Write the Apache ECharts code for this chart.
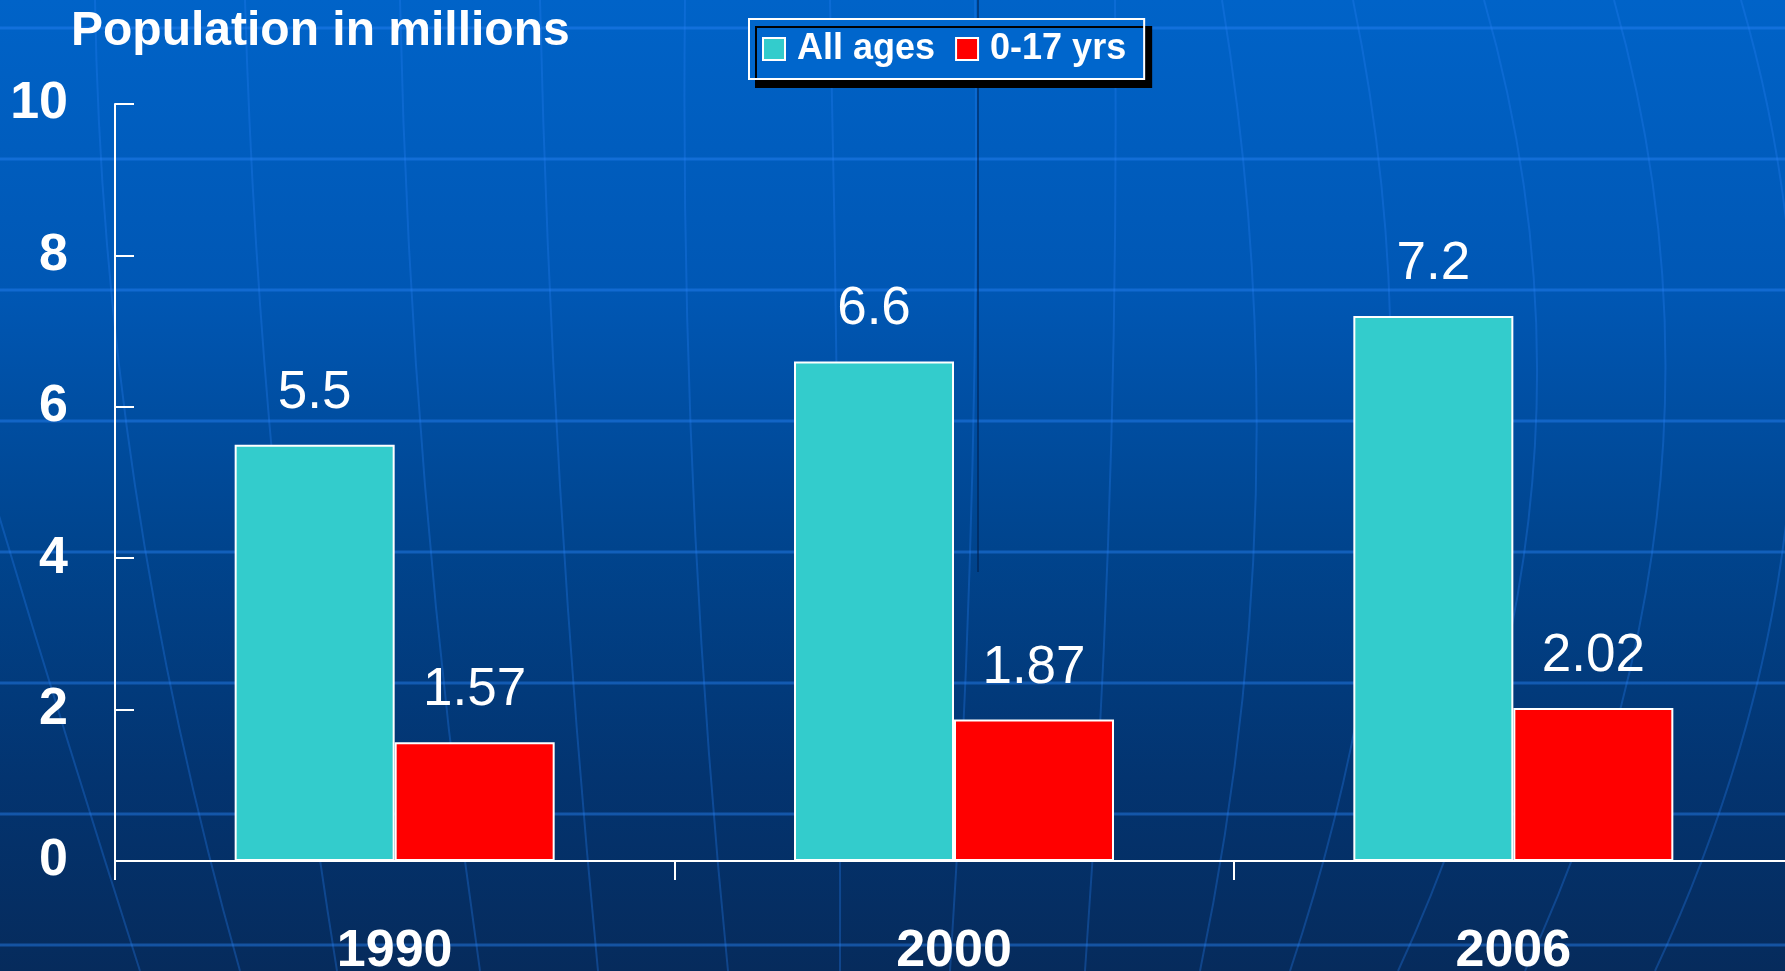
<!DOCTYPE html>
<html>
<head>
<meta charset="utf-8">
<title>Population in millions</title>
<script src="https://cdn.jsdelivr.net/npm/echarts@6/dist/echarts.min.js"></script>
<style>
  html, body { margin: 0; padding: 0; background: #003a7a; }
  #chart { width: 1785px; height: 971px; }
</style>
</head>
<body>
<div id="chart"></div>
<script>
  var years = ['1990', '2000', '2006'];
  var allAges = [5.5, 6.6, 7.2];
  var youth = [1.57, 1.87, 2.02];
  var seriesNames = ['All ages', '0-17 yrs'];

  var chart = echarts.init(document.getElementById('chart'));
  var W = 1785, H = 971;

  // background: blue slide gradient with a faint globe grid
  var deco = [{
    type: 'rect',
    z: -10,
    silent: true,
    shape: { x: 0, y: 0, width: W, height: H },
    style: {
      fill: new echarts.graphic.LinearGradient(0, 0, 0, 1, [
        { offset: 0, color: '#0063c8' },
        { offset: 0.3, color: '#0057b4' },
        { offset: 0.55, color: '#00458f' },
        { offset: 0.8, color: '#033470' },
        { offset: 1, color: '#062b5c' }
      ])
    }
  }];

  var rows = [28, 159, 290, 421, 552, 683, 814, 945];
  rows.forEach(function (y) {
    deco.push({
      type: 'line', z: -9, silent: true,
      shape: { x1: 0, y1: y, x2: W, y2: y },
      style: { stroke: 'rgba(40,130,245,0.45)', lineWidth: 3 }
    });
  });

  // meridians: x at top, middle, bottom
  var meridians = [
    [-150, -10, 140], [95, 135, 240], [245, 275, 337], [400, 425, 480],
    [540, 560, 598], [685, 693, 728], [830, 838, 840], [975, 972, 950],
    [1115, 1110, 1085], [1222, 1256, 1200], [1353, 1387, 1290],
    [1484, 1532, 1398], [1614, 1660, 1525], [1741, 1790, 1655]
  ];
  meridians.forEach(function (m) {
    deco.push({
      type: 'bezierCurve', z: -9, silent: true,
      shape: {
        x1: m[0], y1: 0,
        cpx1: 2 * m[1] - (m[0] + m[2]) / 2, cpy1: H / 2,
        x2: m[2], y2: H
      },
      style: { stroke: 'rgba(40,130,245,0.3)', lineWidth: 2, fill: null }
    });
  });

  deco.push({
    type: 'line', z: -8, silent: true,
    shape: { x1: 978, y1: 0, x2: 978, y2: 572 },
    style: { stroke: '#001a44', lineWidth: 1 }
  });

  var fontFamily = '"Liberation Sans", Arial, sans-serif';

  chart.setOption({
    animation: false,
    textStyle: { fontFamily: fontFamily },
    graphic: deco,
    title: {
      text: 'Population in millions',
      left: 66,
      top: 3,
      textStyle: { color: '#fff', fontSize: 48, fontWeight: 'bold', fontFamily: fontFamily }
    },
    legend: {
      left: 749,
      top: 19,
      itemWidth: 22,
      itemHeight: 22,
      itemGap: 20,
      padding: [12, 18, 12, 13],
      backgroundColor: '#0066cc',
      borderColor: '#fff',
      borderWidth: 2,
      borderRadius: 0,
      shadowColor: '#000',
      shadowOffsetX: 7,
      shadowOffsetY: 8,
      shadowBlur: 0,
      icon: 'rect',
      itemStyle: { borderColor: '#fff', borderWidth: 2 },
      textStyle: {
        color: '#fff',
        fontSize: 36,
        fontWeight: 'bold',
        fontFamily: fontFamily,
        padding: [0, 0, 0, 7]
      },
      data: seriesNames
    },
    grid: {
      left: 115,
      right: -8,
      top: 104,
      bottom: 110,
      outerBoundsMode: 'none',
      containLabel: false
    },
    xAxis: {
      type: 'category',
      data: years,
      axisLine: { lineStyle: { color: '#fff', width: 2 } },
      axisTick: { show: true, length: 19, lineStyle: { color: '#fff', width: 2 } },
      axisLabel: {
        color: '#fff',
        fontSize: 52,
        fontWeight: 'bold',
        margin: 65,
        fontFamily: fontFamily
      }
    },
    yAxis: {
      type: 'value',
      min: 0,
      max: 10,
      interval: 2,
      splitLine: { show: false },
      axisLine: { show: true, lineStyle: { color: '#fff', width: 2 } },
      axisTick: { show: true, inside: true, length: 19, lineStyle: { color: '#fff', width: 2 } },
      axisLabel: {
        color: '#fff',
        fontSize: 52,
        fontWeight: 'bold',
        margin: 47,
        padding: [6, 0, 0, 0],
        fontFamily: fontFamily
      }
    },
    series: [
      {
        name: seriesNames[0],
        type: 'bar',
        data: allAges,
        barWidth: 160,
        barGap: '0%',
        itemStyle: { color: '#33cccc', borderColor: '#fff', borderWidth: 2 },
        label: {
          show: true,
          position: 'top',
          distance: 25,
          color: '#fff',
          fontSize: 53,
          fontFamily: fontFamily
        }
      },
      {
        name: seriesNames[1],
        type: 'bar',
        data: youth,
        barWidth: 160,
        barGap: '0%',
        itemStyle: { color: '#ff0000', borderColor: '#fff', borderWidth: 2 },
        label: {
          show: true,
          position: 'top',
          distance: 25,
          color: '#fff',
          fontSize: 53,
          fontFamily: fontFamily
        }
      }
    ]
  });
</script>
</body>
</html>
